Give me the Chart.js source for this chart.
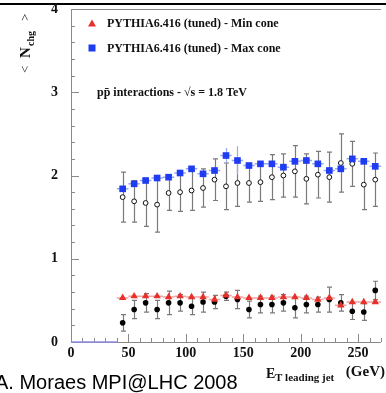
<!DOCTYPE html>
<html>
<head>
<meta charset="utf-8">
<title>Nchg vs leading jet ET</title>
<script src="https://cdn.jsdelivr.net/npm/chart.js@4.4.0/dist/chart.umd.min.js"></script>
<style>
  html, body { margin: 0; padding: 0; background: #fff; }
  #wrap { position: relative; width: 386px; height: 393px; overflow: hidden; }
  #topRule { position: absolute; left: 0; top: 3px; width: 386px; height: 2px; background: #000; }
  #credit {
    position: absolute; left: -5px; top: 372px; white-space: nowrap;
    font: 20px "Liberation Sans", Arial, sans-serif; line-height: 20px; color: #000;
  }
  canvas { position: absolute; left: 0; top: 0; }
</style>
</head>
<body>
<div id="wrap">
  <div id="topRule"></div>
  <canvas id="chart" width="386" height="393"></canvas>
  <div id="credit">A. Moraes MPI@LHC 2008</div>
</div>
<script>
// bin centres (GeV)
const etBins = [45, 55, 65, 75, 85, 95, 105, 115, 125, 135, 145, 155, 165, 175, 185, 195, 205, 215, 225, 235, 245, 255, 265];

// PYTHIA6.416 (tuned)
const maxConeMC = [1.84, 1.90, 1.94, 1.97, 1.98, 2.03, 2.08, 2.02, 2.06, 2.24, 2.18, 2.12, 2.14, 2.14, 2.10, 2.17, 2.18, 2.14, 2.06, 2.08, 2.20, 2.17, 2.11];
const maxConeMCErr = [0, 0, 0, 0, 0, 0, 0, 0, 0, 0.09, 0.17, 0, 0, 0, 0, 0, 0, 0, 0, 0, 0, 0, 0];
const minConeMC = [0.53, 0.55, 0.55, 0.55, 0.54, 0.55, 0.54, 0.54, 0.51, 0.56, 0.54, 0.53, 0.53, 0.53, 0.54, 0.54, 0.53, 0.51, 0.53, 0.44, 0.48, 0.48, 0.48];

// CDF data
const maxConeData = [1.74, 1.69, 1.67, 1.65, 1.79, 1.80, 1.82, 1.85, 1.95, 1.87, 1.91, 1.91, 1.92, 1.98, 2.00, 2.05, 1.96, 2.01, 1.98, 2.15, 2.14, 1.89, 1.95];
const maxConeErr = [0.30, 0.25, 0.28, 0.33, 0.21, 0.23, 0.24, 0.23, 0.25, 0.28, 0.28, 0.23, 0.23, 0.27, 0.26, 0.31, 0.30, 0.28, 0.30, 0.35, 0.27, 0.30, 0.32];
const minConeData = [0.23, 0.39, 0.47, 0.39, 0.47, 0.47, 0.43, 0.48, 0.48, 0.55, 0.51, 0.39, 0.45, 0.45, 0.47, 0.41, 0.45, 0.45, 0.51, 0.47, 0.37, 0.36, 0.62];
const minConeErr = [0.10, 0.11, 0.11, 0.11, 0.14, 0.10, 0.10, 0.12, 0.08, 0.05, 0.11, 0.10, 0.10, 0.10, 0.10, 0.12, 0.10, 0.09, 0.15, 0.10, 0.10, 0.10, 0.11];

// empty low-ET part of the max cone histogram
const lowEtEdges = [0, 40];
const lowEtMaxCone = [0, 0];

const BIN_HALF = 5;
const SERIF = "'Liberation Serif', 'Times New Roman', serif";

const toPoints = (xs, ys) => xs.map((x, i) => ({ x: x, y: ys[i] }));

// keep the plot box fixed: no extra room for the end labels
const fixBox = (w, h) => (s) => {
  if (w) s.width = w;
  if (h) s.height = h;
  s.paddingTop = 0;
  s.paddingBottom = 0;
  s.paddingLeft = 0;
  s.paddingRight = 0;
};

// frame, inner ticks, error bars
const decorations = {
  id: 'decorations',
  beforeDatasetsDraw(chart) {
    const { ctx, chartArea: a, scales: { x, y } } = chart;
    ctx.save();

    // frame
    ctx.strokeStyle = '#8a8a8a';
    ctx.lineWidth = 1;
    ctx.beginPath();
    ctx.moveTo(a.left + 0.5, a.top + 0.5);
    ctx.lineTo(a.left + 0.5, a.bottom + 0.5);
    ctx.lineTo(a.right, a.bottom + 0.5);
    ctx.moveTo(a.left + 0.5, a.top + 0.5);
    ctx.lineTo(a.right, a.top + 0.5);
    ctx.stroke();

    // ticks inside the frame
    ctx.beginPath();
    for (let i = 0; i <= 20; i++) {
      const py = Math.round(y.getPixelForValue(i / 5)) + 0.5;
      const len = i % 5 === 0 ? 8 : 4;
      ctx.moveTo(a.left, py);
      ctx.lineTo(a.left + len, py);
    }
    for (let i = 0; i <= 27; i++) {
      const px = Math.round(x.getPixelForValue(i * 10)) + 0.5;
      const len = i % 5 === 0 ? 8 : 4;
      ctx.moveTo(px, a.bottom);
      ctx.lineTo(px, a.bottom - len);
    }
    ctx.stroke();

    // vertical error bars on the data
    const vBars = (vals, errs, color) => {
      ctx.strokeStyle = color;
      ctx.lineWidth = 1.2;
      ctx.beginPath();
      etBins.forEach((e, i) => {
        if (!errs[i]) return;
        const px = Math.round(x.getPixelForValue(e)) + 0.5;
        const top = y.getPixelForValue(vals[i] + errs[i]);
        const bot = y.getPixelForValue(vals[i] - errs[i]);
        ctx.moveTo(px, top); ctx.lineTo(px, bot);
        ctx.moveTo(px - 2.5, top); ctx.lineTo(px + 2.5, top);
        ctx.moveTo(px - 2.5, bot); ctx.lineTo(px + 2.5, bot);
      });
      ctx.stroke();
    };
    vBars(maxConeData, maxConeErr, '#7a7a7a');
    vBars(minConeData, minConeErr, '#7a7a7a');

    // bin width bars on the MC
    const hBars = (vals, color) => {
      ctx.strokeStyle = color;
      ctx.lineWidth = 1.5;
      ctx.beginPath();
      etBins.forEach((e, i) => {
        const py = y.getPixelForValue(vals[i]);
        ctx.moveTo(x.getPixelForValue(e - BIN_HALF), py);
        ctx.lineTo(x.getPixelForValue(e + BIN_HALF), py);
      });
      ctx.stroke();
    };
    hBars(minConeMC, '#f2a2a2');
    hBars(maxConeMC, '#98a8f2');

    // MC stat errors (only visible ones)
    ctx.strokeStyle = '#98a8f2';
    ctx.lineWidth = 1.2;
    ctx.beginPath();
    etBins.forEach((e, i) => {
      if (!maxConeMCErr[i]) return;
      const px = Math.round(x.getPixelForValue(e)) + 0.5;
      ctx.moveTo(px, y.getPixelForValue(maxConeMC[i] + maxConeMCErr[i]));
      ctx.lineTo(px, y.getPixelForValue(maxConeMC[i] - maxConeMCErr[i]));
    });
    ctx.stroke();

    ctx.restore();
  },

  afterDraw(chart) {
    const { ctx } = chart;
    ctx.save();

    // legend
    ctx.fillStyle = '#e8302a';
    ctx.beginPath();
    ctx.moveTo(92, 19.5); ctx.lineTo(96, 26.5); ctx.lineTo(88, 26.5);
    ctx.closePath();
    ctx.fill();
    ctx.fillStyle = '#1f3cf2';
    ctx.fillRect(88.5, 44.5, 7, 7);

    ctx.fillStyle = '#111';
    ctx.font = 'bold 12px ' + SERIF;
    ctx.textBaseline = 'middle';
    ctx.textAlign = 'left';
    ctx.fillText('PYTHIA6.416 (tuned) - Min cone', 107, 23.5);
    ctx.fillText('PYTHIA6.416 (tuned) - Max cone', 107, 48.5);
    ctx.fillText('pp\u0304 interactions - \u221As = 1.8 TeV', 97, 92.5);

    // x title
    ctx.textBaseline = 'alphabetic';
    ctx.font = 'bold 14px ' + SERIF;
    ctx.fillText('E', 266, 378);
    ctx.font = 'bold 11px ' + SERIF;
    ctx.fillText('T leading jet', 275, 381);
    ctx.font = 'bold 15px ' + SERIF;
    ctx.textAlign = 'right';
    ctx.fillText('(GeV)', 385, 376);

    // y title, rotated
    ctx.translate(30, 73);
    ctx.rotate(-Math.PI / 2);
    ctx.textAlign = 'left';
    ctx.font = '13px ' + SERIF;
    ctx.fillText('<', 0, -1);
    ctx.font = 'bold 15px ' + SERIF;
    ctx.fillText('N', 15, 0);
    ctx.font = 'bold 10px ' + SERIF;
    ctx.fillText('chg', 27, 4);
    ctx.font = '13px ' + SERIF;
    ctx.fillText('>', 52, -1);

    ctx.restore();
  }
};

new Chart(document.getElementById('chart'), {
  type: 'scatter',
  data: {
    datasets: [
      {
        label: 'PYTHIA6.416 (tuned) - Max cone',
        data: toPoints(etBins, maxConeMC),
        pointStyle: 'rect',
        pointRadius: 4.7,
        backgroundColor: '#1f3cf2',
        borderWidth: 0,
        order: 0
      },
      {
        label: 'PYTHIA6.416 (tuned) - Min cone',
        data: toPoints(etBins, minConeMC),
        pointStyle: 'triangle',
        pointRadius: 4.3,
        backgroundColor: '#e8302a',
        borderWidth: 0,
        order: 1
      },
      {
        label: 'Data - Max cone',
        data: toPoints(etBins, maxConeData),
        pointRadius: 2.4,
        backgroundColor: '#fff',
        borderColor: '#111',
        borderWidth: 1,
        order: 2
      },
      {
        label: 'Data - Min cone',
        data: toPoints(etBins, minConeData),
        pointRadius: 2.8,
        backgroundColor: '#000',
        borderWidth: 0,
        order: 3
      },
      {
        label: 'Max cone (low ET)',
        data: toPoints(lowEtEdges, lowEtMaxCone),
        showLine: true,
        pointRadius: 0,
        borderColor: '#8c8ce0',
        borderWidth: 1.5,
        clip: false,
        order: 4
      }
    ]
  },
  options: {
    responsive: false,
    animation: false,
    devicePixelRatio: 1,
    layout: { padding: { top: 9, right: 0, bottom: 0, left: 0 } },
    plugins: {
      legend: { display: false },
      tooltip: { enabled: false }
    },
    scales: {
      x: {
        type: 'linear',
        min: 0,
        max: 270,
        afterFit: fixBox(0, 51),
        grid: { display: false, drawTicks: false },
        border: { display: false },
        ticks: {
          stepSize: 50,
          includeBounds: false,
          autoSkip: false,
          maxRotation: 0,
          padding: 3,
          color: '#111',
          font: { family: SERIF, size: 14, weight: 'bold' }
        }
      },
      y: {
        min: 0,
        max: 4,
        afterFit: fixBox(71, 0),
        grid: { display: false, drawTicks: false },
        border: { display: false },
        ticks: {
          stepSize: 1,
          padding: 13,
          color: '#111',
          font: { family: SERIF, size: 14, weight: 'bold' }
        }
      }
    }
  },
  plugins: [decorations]
});
</script>
</body>
</html>
